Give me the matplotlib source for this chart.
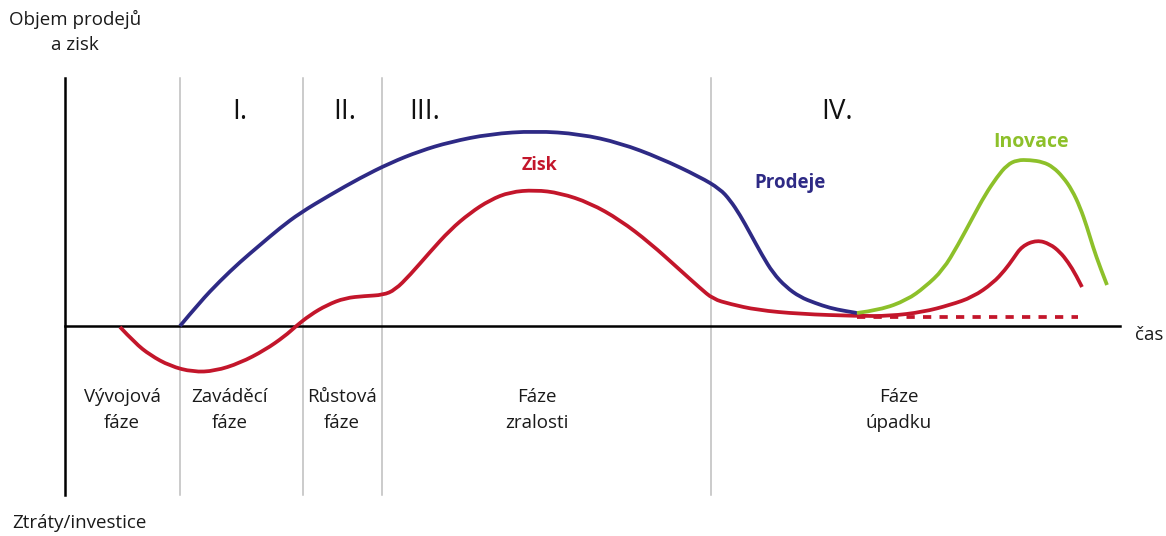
import matplotlib
matplotlib.use("Agg")
import matplotlib.pyplot as plt
from matplotlib.path import Path
from matplotlib.patches import PathPatch

plt.rcParams['font.family'] = ['Open Sans', 'DejaVu Sans']

# Curves (pixel coordinates: x right, y down)
sales_x = [180, 200, 220, 240, 260, 280, 300, 330, 360, 390, 420, 450, 490, 535, 580, 620, 660, 700, 720, 730, 740, 750, 762, 773, 786, 800, 815, 830, 845, 857]
sales_y = [326, 302, 281, 262, 245, 228, 213, 195, 178, 163, 151, 142, 134, 131, 134, 143, 158, 177, 189, 200, 215, 233, 255, 273, 287, 297, 303, 308, 311, 313]

innov_x = [857, 880, 907, 925, 943, 958, 973, 985, 997, 1007, 1017, 1030, 1043, 1053, 1063, 1072, 1080, 1087, 1093, 1100, 1107]
innov_y = [313, 310, 300, 287, 270, 245, 217, 195, 177, 165, 160, 160, 162, 167, 177, 190, 207, 227, 247, 267, 285]

profit_x = [120, 135, 150, 170, 193, 215, 240, 265, 285, 295, 310, 327, 345, 365, 383, 395, 410, 430, 450, 470, 490, 510, 535, 560, 590, 620, 650, 680, 700, 713, 730, 757, 800, 857, 890, 923, 950, 973, 993, 1005, 1013, 1022, 1037, 1050, 1060, 1068, 1076, 1082]
profit_y = [327, 343, 355, 366, 372, 371, 363, 350, 336, 327, 315, 305, 298, 296, 295, 290, 275, 252, 230, 213, 200, 192, 190, 193, 203, 220, 243, 270, 288, 299, 304, 310, 314, 316, 316, 312, 305, 297, 283, 270, 259, 246, 240, 244, 252, 262, 275, 287]

dashed_x = [857, 1078]
dashed_y = [317, 317]

phase_lines = [180, 303, 382, 711]
roman = ["I.", "II.", "III.", "IV."]
roman_x = [240, 345, 425, 837]
phase_names = ["Vývojová\nfáze", "Zaváděcí\nfáze", "Růstová\nfáze", "Fáze\nzralosti", "Fáze\núpadku"]
phase_names_x = [122, 230, 342, 537, 899]

BLUE = "#2e2a85"
RED = "#c3162b"
GREEN = "#8dc02a"


def smooth_path(xs, ys):
    """Quadratic Bezier path using the read points as control points."""
    pts = list(zip(xs, ys))
    verts = [pts[0]]
    codes = [Path.MOVETO]
    n = len(pts)
    for i in range(1, n - 1):
        ctrl = pts[i]
        if i == n - 2:
            end = pts[-1]
        else:
            end = ((pts[i][0] + pts[i + 1][0]) / 2, (pts[i][1] + pts[i + 1][1]) / 2)
        verts += [ctrl, end]
        codes += [Path.CURVE3, Path.CURVE3]
    return Path(verts, codes)


fig = plt.figure(figsize=(11.66, 5.36), dpi=100)
ax = fig.add_axes([0, 0, 1, 1])
ax.set_xlim(0, 1166)
ax.set_ylim(536, 0)
ax.axis('off')

for x in phase_lines:
    ax.plot([x, x], [78, 495], color="#bdbdbd", lw=1.1, zorder=1)

ax.plot([65, 65], [78, 495], color="black", lw=1.8, zorder=2)
ax.plot([65, 1120], [326, 326], color="black", lw=1.8, zorder=2)

for xs, ys, c, z in [(profit_x, profit_y, RED, 3), (sales_x, sales_y, BLUE, 4), (innov_x, innov_y, GREEN, 4)]:
    ax.add_patch(PathPatch(smooth_path(xs, ys), facecolor='none', edgecolor=c,
                           lw=2.7, capstyle='butt', joinstyle='round', zorder=z))
ax.plot(dashed_x, dashed_y, color=RED, lw=2.7, linestyle=(0, (2.2, 2.2)), zorder=3)

for t, x in zip(roman, roman_x):
    ax.text(x, 112, t, fontsize=20, ha='center', va='center', color='#111111')

for t, x in zip(phase_names, phase_names_x):
    ax.text(x, 410, t, fontsize=13.5, ha='center', va='center', color='#1a1a1a', linespacing=1.5)

ax.text(540, 165, "Zisk", fontsize=13, fontweight='bold', color=RED, ha='center', va='center')
ax.text(790, 183, "Prodeje", fontsize=13.5, fontweight='bold', color=BLUE, ha='center', va='center')
ax.text(1031, 142, "Inovace", fontsize=14, fontweight='bold', color=GREEN, ha='center', va='center')

ax.text(1149, 335, "čas", fontsize=13.5, ha='center', va='center', color='#1a1a1a')
ax.text(75, 32, "Objem prodejů\na zisk", fontsize=13.5, ha='center', va='center', color='#1a1a1a', linespacing=1.45)
ax.text(12, 523, "Ztráty/investice", fontsize=13.5, ha='left', va='center', color='#1a1a1a')

fig.savefig("out.png", dpi=100)
